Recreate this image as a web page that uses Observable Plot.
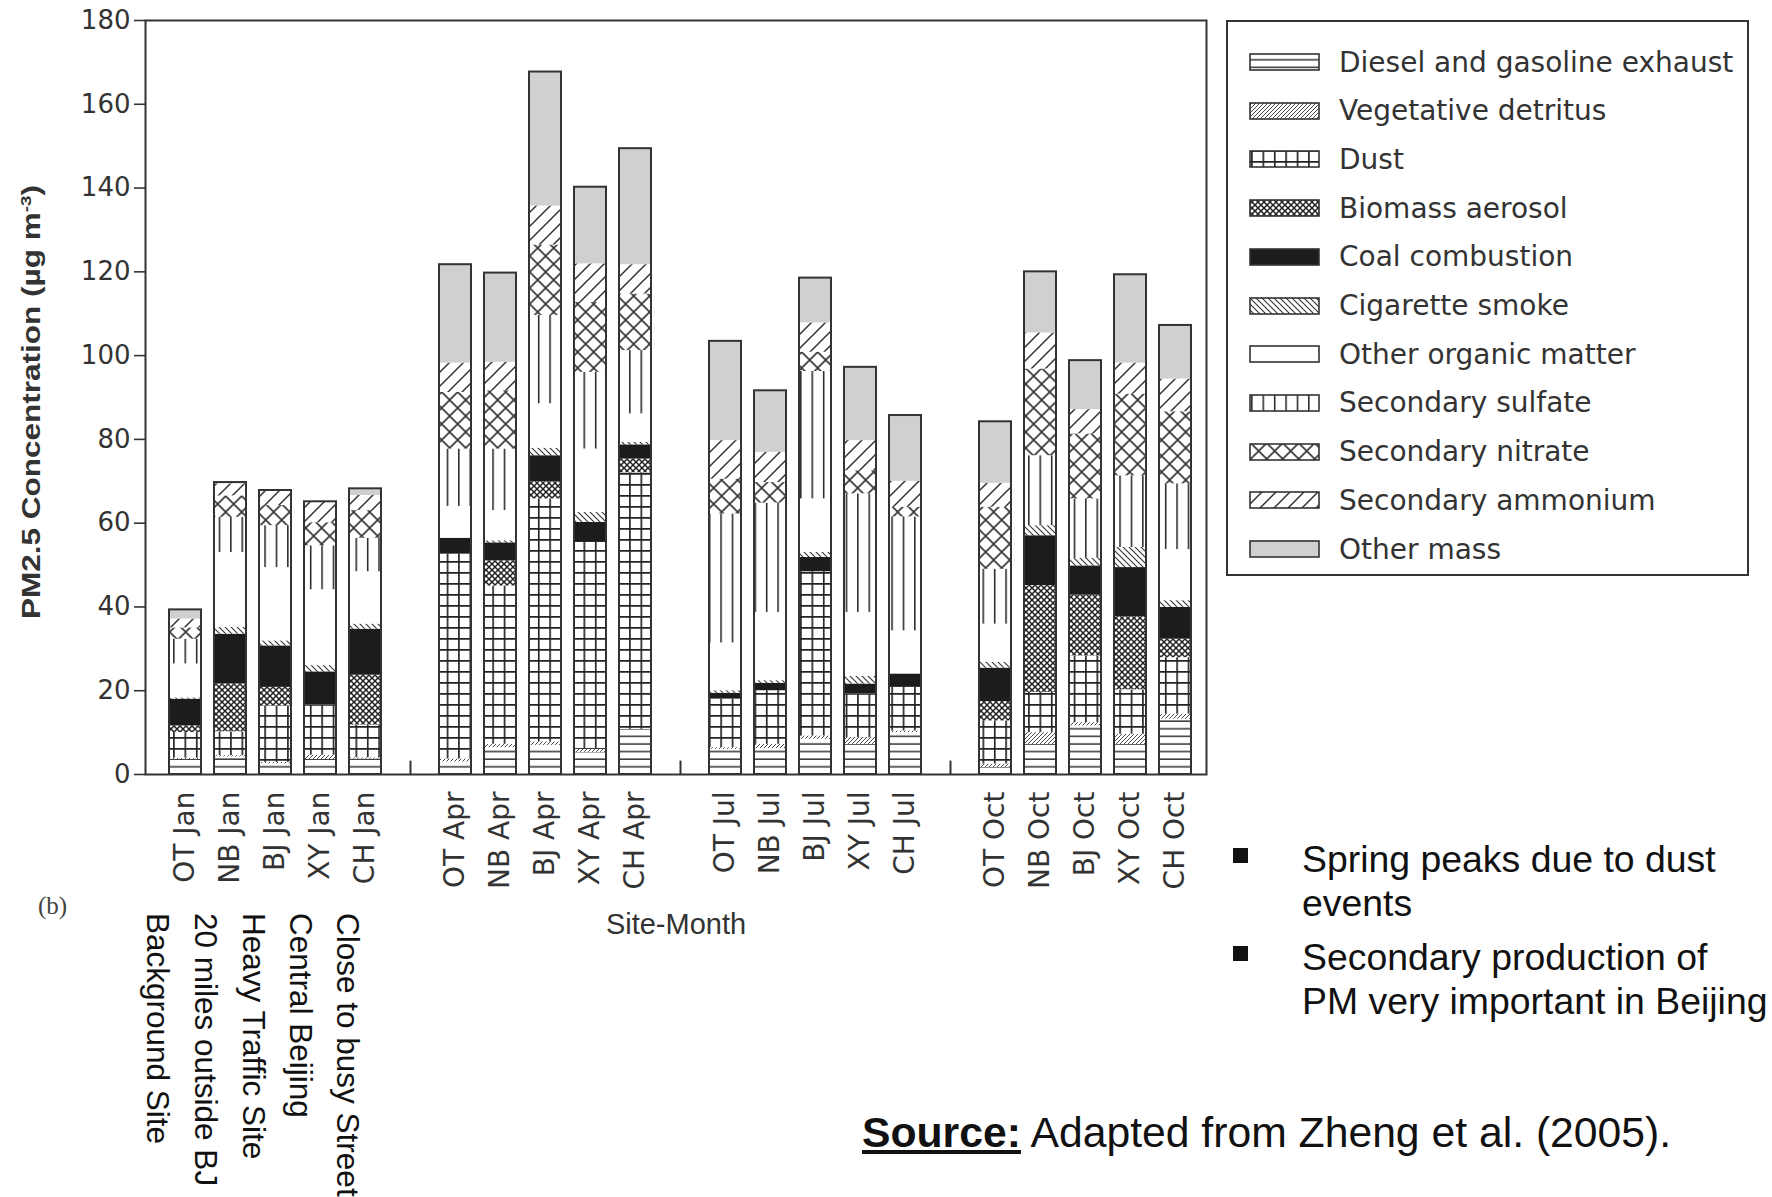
<!DOCTYPE html>
<html>
<head>
<meta charset="utf-8">
<script src="https://cdn.jsdelivr.net/npm/d3@7"></script>
<script src="https://cdn.jsdelivr.net/npm/@observablehq/plot@0.6"></script>
<style>
  html, body { margin: 0; padding: 0; background: #fff; }
  #wrap { position: relative; width: 1772px; height: 1197px; overflow: hidden; background: #fff; }
  #chart { position: absolute; left: 0; top: 0; }
  .ov { position: absolute; white-space: nowrap; }
  .site { position: absolute; writing-mode: vertical-rl; font-family: "Liberation Sans", Arial, sans-serif; font-size: 31.5px; line-height: 32px; color: #111; white-space: nowrap; }
  #legend { position: absolute; left: 1226px; top: 20px; width: 523px; height: 556px; box-sizing: border-box; border: 2px solid #333; }
  .lg { position: absolute; left: 0; height: 40px; display: flex; align-items: center; }
  .lg svg { margin-left: 21px; }
  .lg span { margin-left: 18px; font-family: "DejaVu Sans", sans-serif; font-size: 28px; color: #333; }
  .bul { position: absolute; width: 15px; height: 15px; background: #111; }
  .btxt { position: absolute; font-family: "Liberation Sans", Arial, sans-serif; font-size: 37.4px; line-height: 44px; color: #111; white-space: nowrap; }
  #ylab { position: absolute; left: 28px; top: 402px; transform: translate(-50%, -50%) rotate(-90deg) scaleX(1.26); font-family: "Liberation Sans", Arial, sans-serif; font-weight: bold; font-size: 25px; line-height: 30px; color: #333; white-space: nowrap; }
</style>
</head>
<body>
<div id="wrap">
  <div id="chart"></div>
</div>
<script>
// ---------------- data ----------------
const sites = ["OT", "NB", "BJ", "XY", "CH"];
const months = ["Jan", "Apr", "Jul", "Oct"];
const gapKeys = ["gap1", "gap2", "gap3"];
const sources = ["Diesel and gasoline exhaust", "Vegetative detritus", "Dust", "Biomass aerosol",
  "Coal combustion", "Cigarette smoke", "Other organic matter", "Secondary sulfate",
  "Secondary nitrate", "Secondary ammonium", "Other mass"];
const siteNotes = ["Background Site", "20 miles outside BJ", "Heavy Traffic Site", "Central Beijing", "Close to busy Street"];
const yTicks = [0, 20, 40, 60, 80, 100, 120, 140, 160, 180];

// values in order: OT Jan, NB Jan, BJ Jan, XY Jan, CH Jan, OT Apr ... CH Oct
const diesel   = [3.6, 4.2, 2.6, 3.6, 3.7, 3.0, 6.4, 7.0, 5.3, 10.8, 6.0, 6.2, 8.4, 7.2, 10.0, 1.7, 7.2, 11.6, 7.2, 13.2];
const vegetative = [0.3, 0.3, 0.3, 1.0, 0.3, 0.7, 0.8, 0.8, 0.7, 0.0, 0.4, 1.0, 0.8, 1.6, 0.4, 0.8, 2.8, 0.8, 2.4, 1.2];
const dust     = [6.1, 5.7, 13.5, 12.0, 7.8, 48.9, 37.8, 58.0, 49.4, 61.2, 11.6, 12.8, 39.2, 10.4, 10.4, 10.3, 9.6, 15.9, 10.6, 13.5];
const biomass  = [1.6, 11.4, 4.4, 0, 11.9, 0, 6.0, 4.1, 0, 3.3, 0, 0, 0, 0, 0, 4.6, 25.5, 14.5, 17.5, 4.4];
const coal     = [6.4, 11.9, 9.9, 7.9, 11.0, 3.8, 4.3, 6.2, 4.8, 3.4, 1.4, 1.8, 3.4, 2.4, 3.2, 8.0, 11.9, 7.0, 11.7, 7.6];
const cigarette = [0.3, 1.6, 1.2, 1.5, 1.2, 0, 0.5, 1.8, 2.4, 0.6, 0.6, 0.6, 1.2, 1.8, 0, 1.4, 2.4, 1.8, 4.8, 1.6];
const organic  = [8.1, 17.9, 17.5, 18.1, 12.5, 7.6, 7.2, 10.6, 15.1, 6.8, 11.4, 16.3, 12.8, 15.3, 10.3, 9.1, 0, 0, 0, 12.2];
const sulfate  = [5.9, 8.4, 10.0, 10.5, 8.0, 13.7, 14.7, 21.1, 18.3, 15.1, 30.8, 26.1, 30.4, 28.3, 27.2, 13.1, 16.7, 14.2, 17.1, 15.7];
const nitrate  = [2.7, 5.1, 4.8, 5.5, 6.6, 13.5, 13.9, 16.8, 16.7, 13.5, 8.3, 4.9, 4.6, 5.5, 2.3, 14.8, 20.7, 15.5, 19.5, 17.2];
const ammonium = [2.1, 2.9, 3.6, 5.0, 3.6, 7.0, 6.8, 9.3, 9.2, 7.0, 9.2, 7.2, 7.0, 7.2, 6.2, 5.7, 8.6, 5.8, 7.4, 7.8];
const otherMass = [2.2, 0.3, 0, 0, 1.6, 23.5, 21.3, 32.0, 18.3, 27.7, 23.7, 14.7, 10.7, 17.5, 15.7, 14.7, 14.6, 11.7, 21.1, 12.8];
const seriesValues = [diesel, vegetative, dust, biomass, coal, cigarette, organic, sulfate, nitrate, ammonium, otherMass];

// ---------------- build table ----------------
const labels = [];
months.forEach(m => sites.forEach(s => labels.push(`${s} ${m}`)));
const slots = [];
months.forEach((m, mi) => {
  sites.forEach(s => slots.push(`${s} ${m}`));
  if (mi < gapKeys.length) slots.push(gapKeys[mi]);
});
const table = [];
seriesValues.forEach((arr, k) => arr.forEach((v, i) => table.push({label: labels[i], source: k, value: v})));

// ---------------- patterns ----------------
const ox = 161.7;
const patterns = [
  `<pattern id="pat0" patternUnits="userSpaceOnUse" width="10" height="7.6"><rect width="10" height="7.6" fill="#fff"/><line x1="0" y1="6.8" x2="10" y2="6.8" stroke="#333" stroke-width="1.5"/></pattern>`,
  `<pattern id="pat1" patternUnits="userSpaceOnUse" width="4" height="4"><rect width="4" height="4" fill="#fff"/><path d="M0,4L4,0M-1,1L1,-1M3,5L5,3" stroke="#333" stroke-width="0.9"/></pattern>`,
  `<pattern id="pat2" patternUnits="userSpaceOnUse" x="${ox}" y="0" width="11.4" height="11"><rect width="11.4" height="11" fill="#fff"/><path d="M0.8,0V11M0,0.8H11.4" stroke="#222" stroke-width="1.7"/></pattern>`,
  `<pattern id="pat3" patternUnits="userSpaceOnUse" width="6" height="6"><rect width="6" height="6" fill="#fff"/><path d="M0,0L6,6M6,0L0,6" stroke="#222" stroke-width="1.5"/></pattern>`,
  `<pattern id="pat4" patternUnits="userSpaceOnUse" width="4" height="4"><rect width="4" height="4" fill="#1c1c1c"/></pattern>`,
  `<pattern id="pat5" patternUnits="userSpaceOnUse" width="6" height="6"><rect width="6" height="6" fill="#fff"/><path d="M0,0L6,6M-1,5L1,7M5,-1L7,1" stroke="#333" stroke-width="1.1"/></pattern>`,
  `<pattern id="pat6" patternUnits="userSpaceOnUse" width="4" height="4"><rect width="4" height="4" fill="#fff"/></pattern>`,
  `<pattern id="pat7" patternUnits="userSpaceOnUse" x="${ox}" y="0" width="11.4" height="10"><rect width="11.4" height="10" fill="#fff"/><line x1="0.5" y1="0" x2="0.5" y2="10" stroke="#222" stroke-width="2"/></pattern>`,
  `<pattern id="pat8" patternUnits="userSpaceOnUse" x="${ox}" y="0" width="16" height="16"><rect width="16" height="16" fill="#fff"/><path d="M0,0L16,16M16,0L0,16" stroke="#333" stroke-width="1.6"/></pattern>`,
  `<pattern id="pat9" patternUnits="userSpaceOnUse" width="14" height="14"><rect width="14" height="14" fill="#fff"/><path d="M0,14L14,0M-3.5,3.5L3.5,-3.5M10.5,17.5L17.5,10.5" stroke="#333" stroke-width="1.5"/></pattern>`,
  `<pattern id="pat10" patternUnits="userSpaceOnUse" width="4" height="4"><rect width="4" height="4" fill="#cfd0d2"/></pattern>`
];

// ---------------- plot ----------------
const svg = Plot.plot({
  width: 1772,
  height: 1197,
  marginLeft: 145,
  marginRight: 566,
  marginTop: 20,
  marginBottom: 423,
  style: {fontFamily: "DejaVu Sans, sans-serif", background: "transparent", color: "#333", overflow: "visible"},
  x: {type: "band", domain: slots, paddingInner: 0.285, paddingOuter: 0.1425, insetLeft: 10.2, insetRight: 2, axis: null},
  y: {domain: [0, 180], axis: null},
  color: {type: "identity"},
  marks: [
    Plot.barY(table, {x: "label", y: "value", fill: d => `url(#pat${d.source})`}),
    Plot.barY(table, Plot.groupX({y: "sum"}, {x: "label", y: "value", fill: "none", stroke: "#333", strokeWidth: 2})),
    Plot.ruleX(gapKeys, {x: d => d, y1: 0, y2: 3.2, stroke: "#333", strokeWidth: 2}),
    Plot.frame({stroke: "#333", strokeWidth: 2}),
    Plot.axisY({ticks: yTicks, tickSize: 11, tickPadding: 4, fontSize: 26, label: null, stroke: "#333", strokeWidth: 1.6}),
    Plot.axisX({ticks: labels, tickSize: 0, tickPadding: 17, tickRotate: -90, fontSize: 28, label: null}),
    Plot.text(["Site-Month"], {frameAnchor: "bottom", dy: 159, fontSize: 29, fontFamily: "Liberation Sans, Arial, sans-serif", fill: "#333", ariaLabel: "xlabel"})
  ]
});

const ns = "http://www.w3.org/2000/svg";
const defs = document.createElementNS(ns, "defs");
defs.innerHTML = patterns.join("");
svg.insertBefore(defs, svg.firstChild);
const xl = svg.querySelector('g[aria-label="xlabel"] text');
if (xl) { xl.setAttribute("textLength", 159); xl.setAttribute("lengthAdjust", "spacingAndGlyphs"); }
document.getElementById("chart").appendChild(svg);

// ---------------- annotations ----------------
const wrap = document.getElementById("wrap");

// y label
const ylab = document.createElement("div");
ylab.id = "ylab";
ylab.innerHTML = "PM2.5 Concentration (\u00b5g m<sup style='font-size:15px;vertical-align:9px'>-3</sup>)";
wrap.appendChild(ylab);

// legend
const legend = document.createElement("div");
legend.id = "legend";
sources.forEach((name, k) => {
  const row = document.createElement("div");
  row.className = "lg";
  row.style.top = (20 + k * 48.7) + "px";
  row.innerHTML = `<svg width="72" height="18"><rect x="1" y="1" width="69" height="16" fill="url(#pat${k})" stroke="#333" stroke-width="1.6"/></svg><span>${name}</span>`;
  legend.appendChild(row);
});
wrap.appendChild(legend);

// (b)
const b = document.createElement("div");
b.className = "ov";
b.style.cssText = "left:38px;top:892px;font-family:'Liberation Serif',serif;font-size:25px;color:#444;";
b.textContent = "(b)";
wrap.appendChild(b);

// site notes
const noteCenters = [158, 206, 254, 301, 348];
siteNotes.forEach((t, i) => {
  const d = document.createElement("div");
  d.className = "site";
  d.style.left = (noteCenters[i] - 16) + "px";
  d.style.top = "913px";
  d.textContent = t;
  wrap.appendChild(d);
});

// bullets
[[848, 837, "Spring peaks due to dust<br>events"], [946, 935, "Secondary production of<br>PM very important in Beijing"]].forEach(([sq, tt, html]) => {
  const s = document.createElement("div");
  s.className = "bul";
  s.style.left = "1233px";
  s.style.top = sq + "px";
  wrap.appendChild(s);
  const t = document.createElement("div");
  t.className = "btxt";
  t.style.left = "1302px";
  t.style.top = tt + "px";
  t.innerHTML = html;
  wrap.appendChild(t);
});

// source
const src = document.createElement("div");
src.className = "ov";
src.style.cssText = "left:862px;top:1108px;font-family:'Liberation Sans',Arial,sans-serif;font-size:42.7px;line-height:48px;color:#111;";
src.innerHTML = "<b style='text-decoration:underline'>Source:</b> Adapted from Zheng et al. (2005).";
wrap.appendChild(src);
</script>
</body>
</html>
